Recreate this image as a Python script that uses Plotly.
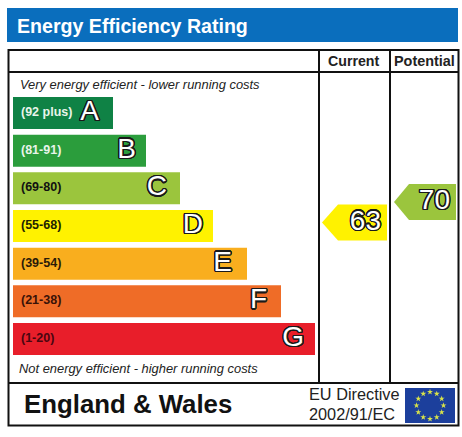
import numpy as np
import plotly.graph_objects as go

W, H = 462, 437

# values
bands = ["A", "B", "C", "D", "E", "F", "G"]
band_labels = ["(92 plus)", "(81-91)", "(69-80)", "(55-68)", "(39-54)", "(21-38)", "(1-20)"]
bar_lengths = [100, 133, 167, 200, 234, 268, 302]
bar_colors = ["#0f8245", "#2b9d3c", "#9bc53d", "#fff200", "#f9ae1e", "#ef6c27", "#e81e2a"]
label_colors = ["#e8f4ea", "#e8f4ea", "#111111", "#222200", "#2a1a08", "#3a1208", "#4a0610"]

columns = ["Current", "Potential"]
ratings = [63, 70]
rating_colors = ["#fff200", "#9bc53d"]

FONT = "Liberation Sans"
OUTLINE_STEPS = 16


def ring(radius, color):
    # one circle of hard text shadows
    parts = []
    for a in np.linspace(0, 2 * np.pi, OUTLINE_STEPS, endpoint=False):
        parts.append(f"{radius * np.cos(a):.2f}px {radius * np.sin(a):.2f}px 0 {color}")
    return ", ".join(parts)


OUTLINE = ring(1.0, "#1a1a1a") + ", " + ring(1.4, "#1a1a1a")

# rating axis: 63 sits at y=222.5px, 70 at y=202px
PX_PER_POINT = 20.5 / 7
rating_top = 63 + 222.5 / PX_PER_POINT
rating_bottom = 63 - (H - 222.5) / PX_PER_POINT

fig = go.Figure()

# rating bars
fig.add_trace(go.Bar(
    x=bar_lengths, y=bands, orientation="h", width=0.85,
    marker=dict(color=bar_colors, line_width=0),
    xaxis="x", yaxis="y", hoverinfo="skip",
))
fig.add_trace(go.Scatter(
    x=[8] * len(bands), y=bands, mode="text", text=band_labels,
    textposition="middle right", cliponaxis=False,
    textfont=dict(family=FONT, size=12.5, weight="bold", color=label_colors),
    xaxis="x", yaxis="y", hoverinfo="skip",
))
letter_pads = [14, 10, 13, 10, 15, 14, 11]
fig.add_trace(go.Scatter(
    x=[v - p for v, p in zip(bar_lengths, letter_pads)], y=bands, mode="text", text=bands,
    textposition="middle left", cliponaxis=False,
    textfont=dict(family=FONT, size=28, color="#ffffff", shadow=OUTLINE),
    xaxis="x", yaxis="y", hoverinfo="skip",
))

# current / potential arrows, (tip, shoulder, right) of each column in px
arrow_x = [(322, 338, 387), (394, 409, 456)]
half_height = 18 / PX_PER_POINT
for rating, color, (tip, shoulder, right) in zip(ratings, rating_colors, arrow_x):
    fig.add_trace(go.Scatter(
        x=[tip, shoulder, right, right, shoulder, tip],
        y=[rating, rating + half_height, rating + half_height,
           rating - half_height, rating - half_height, rating],
        mode="lines", fill="toself", fillcolor=color, line_width=0,
        xaxis="x2", yaxis="y2", hoverinfo="skip",
    ))
    fig.add_trace(go.Scatter(
        x=[right - 6], y=[rating], mode="text", text=[str(rating)],
        textposition="middle left", cliponaxis=False,
        textfont=dict(family=FONT, size=28, color="#ffffff", shadow=OUTLINE),
        xaxis="x2", yaxis="y2", hoverinfo="skip",
    ))

# EU flag stars
angles = np.linspace(0, 2 * np.pi, 12, endpoint=False)
fig.add_trace(go.Scatter(
    x=430 + 13.5 * np.cos(angles), y=405.5 + 13.5 * np.sin(angles), mode="markers",
    marker=dict(symbol="star", size=4.5, color="#d8e24a", line_width=0),
    xaxis="x2", yaxis="y3", hoverinfo="skip",
))

shapes = [
    dict(type="rect", x0=7, x1=458, y0=8, y1=42, fillcolor="#0a6ebd", line_width=0, layer="below"),
    dict(type="rect", x0=405, x1=455, y0=388, y1=423, fillcolor="#1c3f9c", line_width=0, layer="below"),
    dict(type="rect", x0=8.5, x1=458.5, y0=50, y1=425.5, line=dict(color="#111111", width=2), layer="below"),
]
for x0, y0, x1, y1 in [(8, 72, 458, 72), (8, 383, 458, 383), (319, 50, 319, 383), (390, 50, 390, 383)]:
    shapes.append(dict(type="line", x0=x0, x1=x1, y0=y0, y1=y1,
                       line=dict(color="#111111", width=2), layer="below"))
for s in shapes:
    s.update(xref="x2", yref="y3")


def note(x, y, text, size, color="#222222", anchor="left", **font):
    return dict(x=x, y=y, text=text, xref="x2", yref="y3", showarrow=False,
                xanchor=anchor, yanchor="middle", borderpad=0, borderwidth=0,
                font=dict(family=FONT, size=size, color=color, **font))


annotations = [
    note(17, 25.5, "Energy Efficiency Rating", 19.6, "#ffffff", weight="bold"),
    note(354, 61, columns[0], 14.2, "#222222", "center", weight="bold"),
    note(424, 61, columns[1], 14.4, "#222222", "center", weight="bold"),
    note(20, 84, "<i>Very energy efficient - lower running costs</i>", 12.9),
    note(19, 368, "<i>Not energy efficient - higher running costs</i>", 12.9),
    note(24, 404, "England & Wales", 25.8, "#111111", weight="bold"),
    note(309, 394, "EU Directive", 16.3),
    note(309, 414, "2002/91/EC", 16.3),
]

hidden = dict(visible=False, fixedrange=True)
fig.update_layout(
    width=W, height=H, margin=dict(l=0, r=0, t=0, b=0), showlegend=False,
    paper_bgcolor="white", plot_bgcolor="rgba(0,0,0,0)",
    shapes=shapes, annotations=annotations,
    xaxis=dict(hidden, domain=[13 / W, 1], range=[0, W - 13], anchor="y"),
    yaxis=dict(hidden, domain=[1 - 357.8 / H, 1 - 94.2 / H], type="category",
               categoryorder="array", categoryarray=bands, range=[6.5, -0.5], anchor="x"),
    xaxis2=dict(hidden, domain=[0, 1], range=[0, W], anchor="y2"),
    yaxis2=dict(hidden, domain=[0, 1], range=[rating_bottom, rating_top], anchor="x2"),
    yaxis3=dict(hidden, domain=[0, 1], range=[H, 0], anchor="x2", overlaying="y2"),
)

# the page's default body margin would push the chart 8px down and right
fig.write_html("out.html", config=dict(displayModeBar=False),
               post_script="document.body.style.margin='0';document.documentElement.style.overflow='hidden';")
